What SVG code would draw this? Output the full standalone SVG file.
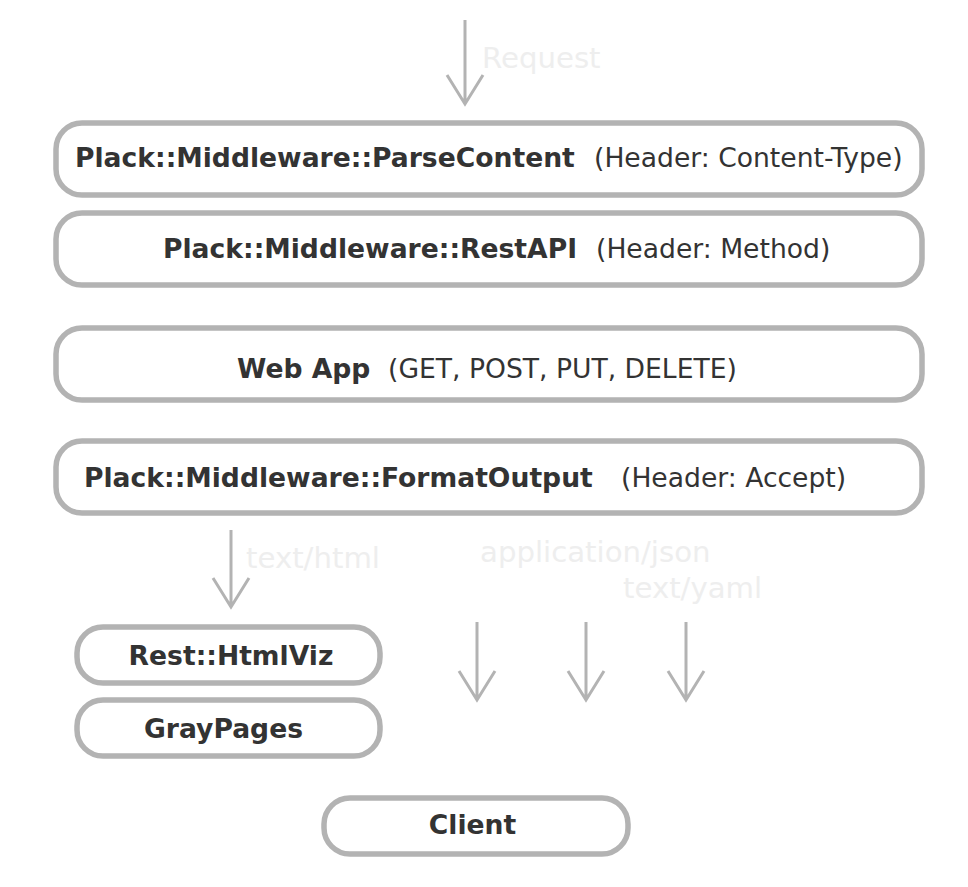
<svg xmlns="http://www.w3.org/2000/svg" width="968" height="887" viewBox="0 0 968 887">
<style>
.box{fill:#ffffff;stroke:#b3b3b3;stroke-width:5.5}
.b{font-family:"DejaVu Sans",sans-serif;font-weight:bold;font-size:26.6px;fill:#333333}
.n{font-family:"DejaVu Sans",sans-serif;font-size:26.6px;fill:#333333}
.lbl{font-family:"DejaVu Sans",sans-serif;font-size:29.2px;fill:#eeeeee}
.arr{fill:none;stroke:#b3b3b3;stroke-width:3}
</style>
<rect width="968" height="887" fill="#ffffff"/>
<g id="connectors">
<g id="request"><path class="arr" d="M465 20V104M447 75L465 104L483 75"/><text class="lbl" x="482" y="68">Request</text></g>
<g id="html"><path class="arr" d="M231 530V607M213 578L231 607L249 578"/><text class="lbl" x="246" y="568">text/html</text></g>
<text class="lbl" x="480" y="562">application/json</text>
<text class="lbl" x="623" y="598">text/yaml</text>
<path class="arr" d="M477 622V700M459 671L477 700L495 671"/>
<path class="arr" d="M586 622V700M568 671L586 700L604 671"/>
<path class="arr" d="M686 622V700M668 671L686 700L704 671"/>
</g>
<g id="parsecontent"><rect class="box" x="56" y="123" width="866" height="72" rx="26"/><text x="75" y="167"><tspan class="b">Plack::Middleware::ParseContent</tspan><tspan class="n" x="594">(Header: Content-Type)</tspan></text></g>
<g id="restapi"><rect class="box" x="56" y="213" width="866" height="72" rx="26"/><text x="163" y="258"><tspan class="b">Plack::Middleware::RestAPI</tspan><tspan class="n" x="596">(Header: Method)</tspan></text></g>
<g id="webapp"><rect class="box" x="56" y="328" width="866" height="72" rx="26"/><text x="237" y="378"><tspan class="b">Web App</tspan><tspan class="n" x="388">(GET, POST, PUT, DELETE)</tspan></text></g>
<g id="formatoutput"><rect class="box" x="56" y="441" width="866" height="72" rx="26"/><text x="84" y="487"><tspan class="b">Plack::Middleware::FormatOutput</tspan><tspan class="n" x="621">(Header: Accept)</tspan></text></g>
<g id="htmlviz"><rect class="box" x="77" y="627" width="303" height="56" rx="26"/><text class="b" x="231" y="665" text-anchor="middle">Rest::HtmlViz</text></g>
<g id="graypages"><rect class="box" x="77" y="700" width="303" height="56" rx="26"/><text class="b" x="223.5" y="738" text-anchor="middle">GrayPages</text></g>
<g id="client"><rect class="box" x="324" y="798" width="304" height="56" rx="26"/><text class="b" x="472.5" y="834" text-anchor="middle">Client</text></g>
</svg>
